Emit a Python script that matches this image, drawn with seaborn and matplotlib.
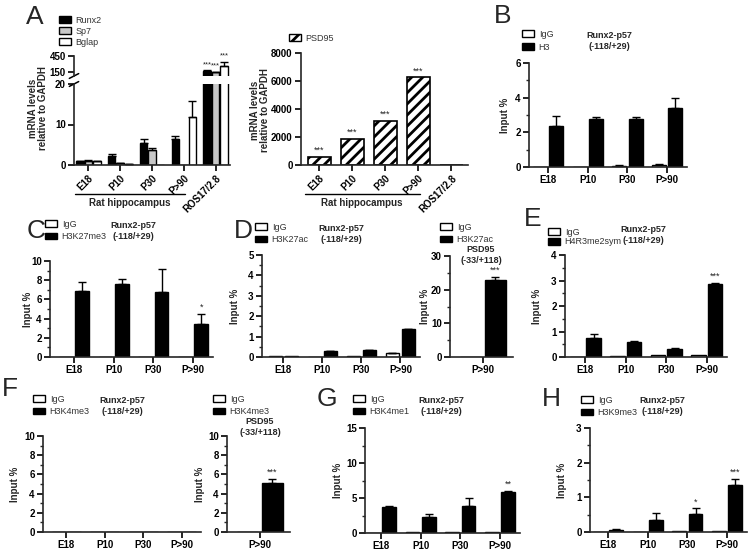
import matplotlib
matplotlib.use('Agg')
import matplotlib.pyplot as plt
import matplotlib.transforms as mtrans
import pandas as pd
import seaborn as sns
from matplotlib.patches import Patch
from matplotlib.ticker import AutoMinorLocator

# ---- data ----
a_stages = ['E18', 'P10', 'P30', 'P>90', 'ROS17/2.8']
genes = ['Runx2', 'Sp7', 'Bglap']
runx2 = [0.9, 2.3, 5.5, 6.5, 175]
runx2_err = [0.1, 0.5, 0.8, 0.7, 12]
sp7 = [1.0, 0.5, 3.8, 0.05, 150]
sp7_err = [0.25, 0.1, 0.5, 0.0, 8]
bglap = [0.9, 0.25, 0.1, 11.8, 270]
bglap_err = [0.05, 0.05, 0.0, 3.9, 70]
psd95_mrna = [600, 1850, 3150, 6250, 0]

stages = ['E18', 'P10', 'P30', 'P>90']
b_igg, b_igg_err = [0.02, 0.01, 0.07, 0.13], [0, 0, 0.02, 0.05]
b_h3, b_h3_err = [2.35, 2.75, 2.75, 3.4], [0.6, 0.15, 0.15, 0.6]
c_igg, c_igg_err = [0.03, 0.02, 0.03, 0.03], [0, 0, 0, 0]
c_k27me3, c_k27me3_err = [6.9, 7.65, 6.8, 3.4], [0.9, 0.45, 2.4, 1.05]
d_igg, d_igg_err = [0.04, 0.02, 0.06, 0.2], [0, 0, 0, 0.02]
d_k27ac, d_k27ac_err = [0.03, 0.27, 0.32, 1.35], [0, 0.03, 0.02, 0.03]
dr_igg, dr_k27ac, dr_k27ac_err = [0.1], [22.8], [1.0]
e_igg, e_igg_err = [0.01, 0.05, 0.06, 0.07], [0, 0, 0, 0]
e_h4r3, e_h4r3_err = [0.75, 0.6, 0.32, 2.85], [0.15, 0.02, 0.03, 0.05]
f_igg, f_igg_err = [0.02, 0.02, 0.02, 0.02], [0, 0, 0, 0]
f_k4me3, f_k4me3_err = [0.03, 0.03, 0.04, 0.05], [0, 0, 0, 0]
fr_igg, fr_k4me3, fr_k4me3_err = [0.03], [5.15], [0.35]
g_igg, g_igg_err = [0.05, 0.1, 0.1, 0.2], [0, 0, 0, 0]
g_k4me1, g_k4me1_err = [3.7, 2.3, 3.9, 5.9], [0.1, 0.35, 1.1, 0.15]
h_igg, h_igg_err = [0.01, 0.01, 0.02, 0.03], [0, 0, 0, 0]
h_k9me3, h_k9me3_err = [0.06, 0.35, 0.53, 1.37], [0.02, 0.2, 0.15, 0.16]

RUNX2_TITLE = 'Runx2-p57\n(-118/+29)'
PSD95_TITLE = 'PSD95\n(-33/+118)'

# ---- style ----
sns.set_style('ticks')
plt.rcParams['font.family'] = ['Liberation Sans', 'DejaVu Sans']
plt.rcParams['font.weight'] = 'bold'
plt.rcParams['hatch.linewidth'] = 2.0
plt.rcParams['axes.linewidth'] = 1.2

W, H = 750, 551
fig = plt.figure(figsize=(W / 100, H / 100), dpi=100)


def rect(l, t, r, b):
    return [l / W, 1 - b / H, (r - l) / W, (b - t) / H]


def fxy(x, y):
    return x / W, 1 - y / H


def style(ax, minor=True):
    sns.despine(ax=ax)
    ax.tick_params(axis='both', which='major', length=4, width=1.2, pad=2,
                   labelsize=7, colors='black')
    ax.tick_params(axis='y', which='minor', length=2, width=1)
    if minor:
        ax.yaxis.set_minor_locator(AutoMinorLocator(2))
    ax.set_xlabel('')
    ax.set_ylabel('')


def add_errors(ax, errs):
    for cont, err in zip(ax.containers, errs):
        for bar, e in zip(cont, err):
            if e:
                ax.errorbar(bar.get_x() + bar.get_width() / 2, bar.get_height(),
                            yerr=[[0], [e]], fmt='none', ecolor='black',
                            elinewidth=1, capsize=3, capthick=1)


def add_star(ax, ci, bi, text, err, size=6.5):
    bar = ax.containers[ci][bi]
    ax.annotate(text, (bar.get_x() + bar.get_width() / 2, bar.get_height() + err),
                xytext=(0, 1.5), textcoords='offset points', ha='center',
                va='bottom', fontsize=size, weight='normal', color='#222222')


def legend(xy, handles, labels, spacing=0.3):
    fig.legend(handles, labels, loc='upper left', bbox_to_anchor=fxy(*xy),
               frameon=False, borderpad=0, borderaxespad=0, handlelength=1.35,
               handleheight=0.8, handletextpad=0.5, labelspacing=spacing,
               prop={'size': 6.5, 'weight': 'normal'}, labelcolor='#333333')


def letter(x, y, s):
    fig.text(*fxy(x, y), s, fontsize=19, weight='normal', va='top', ha='left')


def chip(box, cats, igg, igg_err, ab, ab_err, name, ylim, step, xlim, stars,
         leg_xy, title, title_xy, ylab_dx=21, spacing=0.35):
    ax = fig.add_axes(rect(*box))
    n = len(cats)
    df = pd.DataFrame({'stage': cats * 2, 'ab': ['IgG'] * n + [name] * n,
                       'val': igg + ab})
    sns.barplot(df, x='stage', y='val', hue='ab', palette=['white', 'black'],
                saturation=1, edgecolor='black', linewidth=1, width=0.82,
                gap=0.15, errorbar=None, legend=False, ax=ax)
    add_errors(ax, [igg_err, ab_err])
    for bi, s in stars:
        add_star(ax, 1, bi, s, ab_err[bi])
    ax.set_xlim(*xlim)
    ax.set_ylim(*ylim)
    ax.set_yticks(range(ylim[0], ylim[1] + 1, step))
    style(ax)
    ax.set_ylabel('Input %', fontsize=7, weight='bold')
    ax.yaxis.set_label_coords(-ylab_dx / (box[2] - box[0]), 0.5)
    legend(leg_xy, [Patch(facecolor='white', edgecolor='black', lw=1),
                    Patch(facecolor='black', edgecolor='black', lw=1)],
           ['IgG', name], spacing)
    fig.text(*fxy(*title_xy), title, ha='center', va='center', fontsize=6.5,
             weight='bold', linespacing=1.2)
    return ax


# ---- A left: broken axis grouped bars ----
a_df = pd.DataFrame({'stage': a_stages * 3,
                     'gene': [g for g in genes for _ in a_stages],
                     'val': runx2 + sp7 + bglap})
a_pal = ['black', '#c8c8c8', 'white']
a_errs = [runx2_err, sp7_err, bglap_err]
ax_lo = fig.add_axes(rect(74, 84, 230, 165))
ax_hi = fig.add_axes(rect(74, 56, 230, 76))
for ax in (ax_lo, ax_hi):
    sns.barplot(a_df, x='stage', y='val', hue='gene', palette=a_pal, saturation=1,
                edgecolor='black', linewidth=1, width=0.8, gap=0.12,
                errorbar=None, legend=False, ax=ax)
    add_errors(ax, a_errs)
    ax.set_xlim(-0.45, 4.45)
    style(ax, minor=False)
ax_lo.set_ylim(0, 20)
ax_lo.set_yticks([0, 10, 20])
ax_hi.set_ylim(80, 450)
ax_hi.set_yticks([150, 450])
ax_hi.spines['bottom'].set_visible(False)
ax_hi.tick_params(axis='x', bottom=False, labelbottom=False)
for gi in range(3):
    add_star(ax_hi, gi, 4, '***', a_errs[gi][4], size=5.5)
ax_lo.set_xticks(range(len(a_stages)))
ax_lo.set_xticklabels(a_stages, rotation=45, ha='right', rotation_mode='anchor')
# axis break marks
ax_lo.plot([-0.03, 0.03], [0.97, 1.03], transform=ax_lo.transAxes,
           color='black', lw=1.1, clip_on=False)
ax_hi.plot([-0.03, 0.03], [-0.12, 0.12], transform=ax_hi.transAxes,
           color='black', lw=1.1, clip_on=False)
fig.text(*fxy(38, 108), 'mRNA levels\nrelative to GAPDH', rotation=90,
         ha='center', va='center', fontsize=7, weight='bold', linespacing=1.05)
legend((59, 16), [Patch(facecolor=c, edgecolor='black', lw=1) for c in a_pal],
       genes, spacing=0.2)

# ---- A right: PSD95 mRNA ----
ax_p = fig.add_axes(rect(301, 53, 468, 165))
p_df = pd.DataFrame({'stage': a_stages, 'val': psd95_mrna})
sns.barplot(p_df, x='stage', y='val', color='white', saturation=1,
            edgecolor='black', linewidth=1.2, width=0.7, hatch='///',
            errorbar=None, ax=ax_p)
ax_p.set_xlim(-0.55, 4.5)
ax_p.set_ylim(0, 8000)
ax_p.set_yticks(range(0, 8001, 2000))
style(ax_p, minor=False)
for bi in range(4):
    add_star(ax_p, 0, bi, '***', 0)
ax_p.set_xticks(range(len(a_stages)))
ax_p.set_xticklabels(a_stages, rotation=45, ha='right', rotation_mode='anchor')
fig.text(*fxy(260, 110), 'mRNA levels\nrelative to GAPDH', rotation=90,
         ha='center', va='center', fontsize=7, weight='bold', linespacing=1.05)
legend((289, 34), [Patch(facecolor='white', edgecolor='black', lw=1, hatch='///')],
       ['PSD95'])

for ax in (ax_lo, ax_p):
    tr = mtrans.blended_transform_factory(ax.transData, fig.transFigure)
    ax.plot([-0.42, 3.05], [1 - 194 / H] * 2, transform=tr, color='black',
            lw=1, clip_on=False)
    ax.text(1.3, 1 - 203 / H, 'Rat hippocampus', transform=tr, ha='center',
            va='center', fontsize=7, weight='bold')
letter(26, 5, 'A')

# ---- B ----
chip((529, 63, 687, 167), stages, b_igg, b_igg_err, b_h3, b_h3_err, 'H3',
     (0, 6), 2, (-0.48, 3.5), [], (522, 30), RUNX2_TITLE, (609, 41), 19,
     spacing=0.45)
letter(494, 4, 'B')

# ---- C ----
chip((50, 261, 213, 357), stages, c_igg, c_igg_err, c_k27me3, c_k27me3_err,
     'H3K27me3', (0, 10), 2, (-0.6, 3.5), [(3, '*')], (45, 220), RUNX2_TITLE,
     (133, 231), 17)
letter(27, 219, 'C')

# ---- D ----
chip((262, 255, 420, 357), stages, d_igg, d_igg_err, d_k27ac, d_k27ac_err,
     'H3K27ac', (0, 5), 1, (-0.55, 3.5), [], (255, 223), RUNX2_TITLE,
     (341, 234), 22)
chip((450, 256, 513, 357), ['P>90'], dr_igg, [0], dr_k27ac, dr_k27ac_err,
     'H3K27ac', (0, 30), 10, (-0.55, 0.5), [(0, '***')], (440, 223),
     PSD95_TITLE, (481, 255), 20)
letter(234, 219, 'D')

# ---- E ----
chip((565, 255, 727, 357), stages, e_igg, e_igg_err, e_h4r3, e_h4r3_err,
     'H4R3me2sym', (0, 4), 1, (-0.5, 3.5), [(3, '***')], (548, 228),
     RUNX2_TITLE, (643, 235), 23, spacing=0.05)
letter(524, 207, 'E')

# ---- F ----
chip((43, 436, 201, 532), stages, f_igg, f_igg_err, f_k4me3, f_k4me3_err,
     'H3K4me3', (0, 10), 2, (-0.6, 3.5), [], (33, 395), RUNX2_TITLE,
     (122, 406), 23)
chip((227, 436, 290, 532), ['P>90'], fr_igg, [0], fr_k4me3, fr_k4me3_err,
     'H3K4me3', (0, 10), 2, (-0.55, 0.5), [(0, '***')], (213, 395),
     PSD95_TITLE, (260, 427), 22)
letter(2, 377, 'F')

# ---- G ----
chip((365, 428, 520, 533), stages, g_igg, g_igg_err, g_k4me1, g_k4me1_err,
     'H3K4me1', (0, 15), 5, (-0.4, 3.5), [(3, '**')], (353, 395), RUNX2_TITLE,
     (441, 406), 22)
letter(317, 387, 'G')

# ---- H ----
chip((590, 428, 747, 532), stages, h_igg, h_igg_err, h_k9me3, h_k9me3_err,
     'H3K9me3', (0, 3), 1, (-0.45, 3.5), [(2, '*'), (3, '***')], (581, 396),
     RUNX2_TITLE, (662, 406), 23)
letter(542, 387, 'H')

fig.savefig('out.png', dpi=100)
